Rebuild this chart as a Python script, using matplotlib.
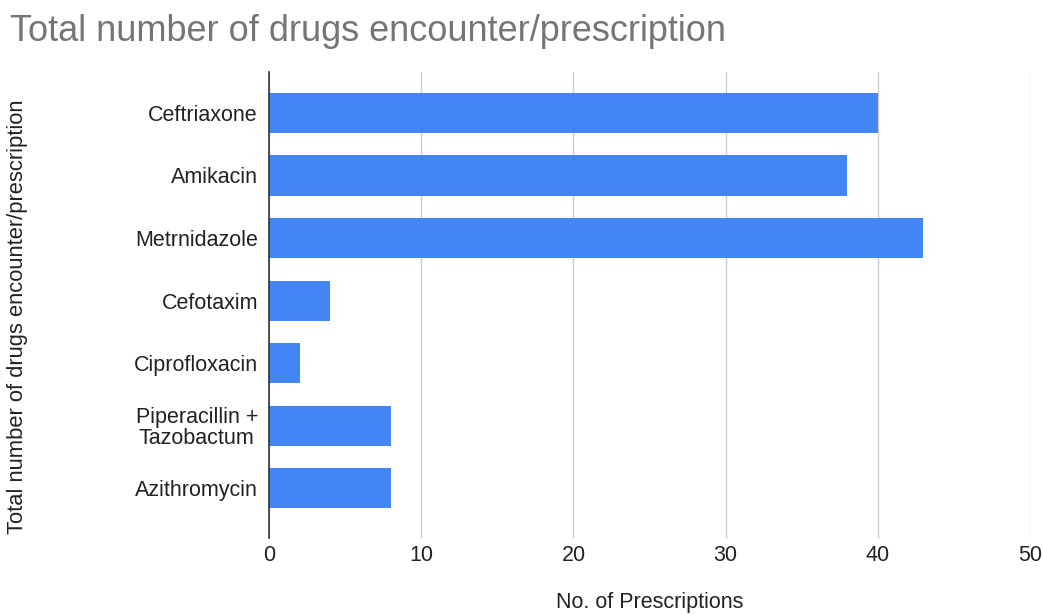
import matplotlib.pyplot as plt

plt.rcParams['font.family'] = ['Liberation Sans', 'DejaVu Sans']

drugs = ['Ceftriaxone', 'Amikacin', 'Metrnidazole', 'Cefotaxim',
         'Ciprofloxacin', 'Piperacillin +\nTazobactum', 'Azithromycin']
prescriptions = [40, 38, 43, 4, 2, 8, 8]
x_ticks = [0, 10, 20, 30, 40, 50]

fig = plt.figure(figsize=(10.43, 6.15), dpi=100)
ax = fig.add_axes([0.258, 0.125, 0.7295, 0.758])

pos = list(range(len(drugs)))
ax.barh(pos, prescriptions, height=0.64, color='#4285F4', zorder=3)

ax.set_ylim(6.8, -0.656)
ax.set_xlim(0, 50)
ax.set_xticks(x_ticks)
ax.set_yticks(pos)
ax.set_yticklabels(drugs)
for lbl in ax.get_yticklabels():
    lbl.set_multialignment('center')
    lbl.set_linespacing(1.0)

ax.tick_params(axis='both', length=0, labelsize=15.5, labelcolor='#222222')
ax.tick_params(axis='y', pad=8)
ax.tick_params(axis='x', pad=5)
ax.grid(axis='x', color='#cccccc', linewidth=1, zorder=0)

for s in ['top', 'right', 'bottom']:
    ax.spines[s].set_visible(False)
ax.spines['left'].set_color('#333333')
ax.spines['left'].set_linewidth(1.2)
ax.spines['left'].set_zorder(4)

fig.text(0.0096, 0.948, 'Total number of drugs encounter/prescription',
         fontsize=26, color='#757575', va='center', ha='left')
fig.text(0.017, 0.485, 'Total number of drugs encounter/prescription',
         fontsize=15.8, color='#222222', rotation=90, va='center', ha='center')
fig.text(0.623, 0.004, 'No. of Prescriptions', fontsize=15.5,
         color='#222222', va='bottom', ha='center')

fig.savefig('out.png', dpi=100)
